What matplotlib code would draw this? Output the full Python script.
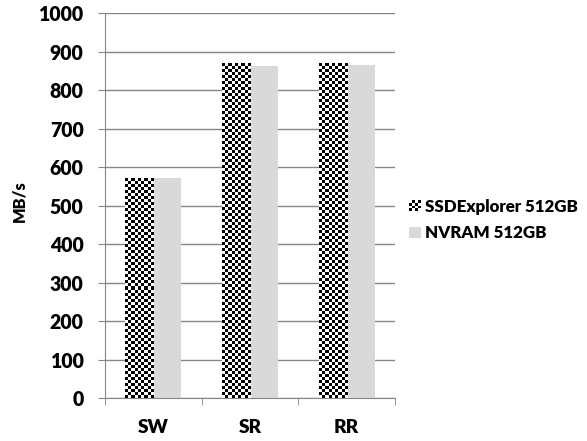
import numpy as np
import matplotlib
matplotlib.use('Agg')
import matplotlib.pyplot as plt
from matplotlib.patches import Rectangle
from matplotlib.legend_handler import HandlerBase

WT = 'heavy'
plt.rcParams['font.family'] = ['Lato', 'DejaVu Sans']
plt.rcParams['font.weight'] = WT

categories = ['SW', 'SR', 'RR']
ssdexplorer = [571, 870, 870]
nvram = [572, 862, 866]
series_names = ['SSDExplorer 512GB', 'NVRAM 512GB']


def checker(w_px, h_px, cell=3):
    nx = max(int(round(w_px / cell)), 1)
    ny = max(int(round(h_px / cell)), 1)
    return (np.indices((ny, nx)).sum(axis=0) % 2).astype(float)


class CheckerHandler(HandlerBase):
    def create_artists(self, legend, orig_handle, xdescent, ydescent,
                       width, height, fontsize, trans):
        n = 4
        cw, ch = width / n, height / n
        arts = [Rectangle((-xdescent, -ydescent), width, height,
                          facecolor='white', linewidth=0, transform=trans)]
        for i in range(n):
            for j in range(n):
                if (i + j) % 2 == 0:
                    arts.append(Rectangle((-xdescent + i * cw, -ydescent + j * ch),
                                          cw, ch, facecolor='black',
                                          linewidth=0, transform=trans))
        return arts


fig = plt.figure(figsize=(5.87, 4.41), dpi=100)
renderer = fig.canvas.get_renderer()


def fit(text, target_px):
    t = fig.text(0, 0, text, fontsize=10, fontweight=WT)
    wpx = t.get_window_extent(renderer).width
    t.remove()
    return 10 * target_px / wpx


fs_tick = fit('1000', 45)
fs_cat = fit('SW', 31)
fs_ylab = fit('MB/s', 42)
fs_leg = fit('NVRAM 512GB', 121)

ax = fig.add_axes([0.179, 0.0975, 0.494, 0.873])

x = np.arange(len(categories))
w = 0.29
grid_c = '#868686'

ax.set_axisbelow(True)
ax.yaxis.grid(True, color=grid_c, linewidth=1)
b1 = ax.bar(x - w / 2, ssdexplorer, w, color='white', linewidth=0, zorder=2)
b2 = ax.bar(x + w / 2, nvram, w, color='#d9d9d9', linewidth=0, zorder=2)

ax.set_xlim(-0.5, 2.5)
ax.set_ylim(0, 1000)
ax.set_yticks(range(0, 1001, 100))
ax.set_xticks(x)
ax.set_xticklabels(categories, fontsize=fs_cat, fontweight=WT)
ax.tick_params(axis='x', length=0, pad=15)
ax.set_xticks([-0.5, 0.5, 1.5, 2.5], minor=True)
ax.tick_params(axis='x', which='minor', length=5, color=grid_c, direction='out')
ax.tick_params(axis='y', length=5, color=grid_c, labelsize=fs_tick, pad=10.5)
for lbl in ax.get_yticklabels():
    lbl.set_fontweight(WT)
for s in ['top', 'right']:
    ax.spines[s].set_visible(False)
ax.spines['left'].set_color(grid_c)
ax.spines['bottom'].set_color(grid_c)
ax.set_ylabel('MB/s', fontsize=fs_ylab, fontweight=WT)
ax.yaxis.set_label_coords(27 / 587, 1 - 201 / 441, transform=fig.transFigure)

px = fs_leg * 100 / 72
leg = fig.legend([b1[0], b2[0]], series_names, loc='center left',
                 bbox_to_anchor=(409 / 587, 1 - 220 / 441), frameon=False,
                 prop={'size': fs_leg, 'weight': WT},
                 borderpad=0, borderaxespad=0,
                 handlelength=12 / px, handleheight=10 / px,
                 handletextpad=4 / px, labelspacing=(31 - 1.2 * px) / px,
                 handler_map={b1[0]: CheckerHandler()})

fig.canvas.draw()
for bar in b1:
    bb = bar.get_window_extent()
    arr = checker(bb.width, bb.height)
    x0, y0 = bar.get_xy()
    im = ax.imshow(arr, cmap='gray', interpolation='nearest', aspect='auto',
                   extent=(x0, x0 + bar.get_width(), y0, y0 + bar.get_height()),
                   zorder=3)
    im.set_clip_path(bar)
ax.set_xlim(-0.5, 2.5)
ax.set_ylim(0, 1000)

fig.savefig('out.png', dpi=100)
